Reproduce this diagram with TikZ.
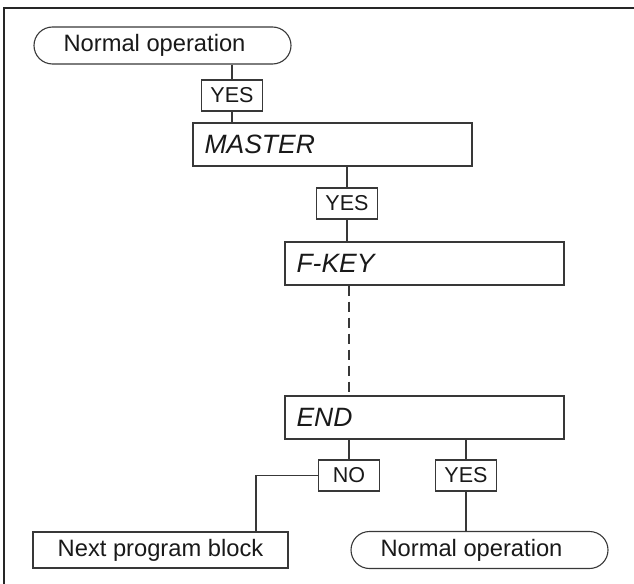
\documentclass[tikz,border=0pt]{standalone}
\usepackage{fontspec}
\setmainfont{Liberation Sans}
\usetikzlibrary{shapes.misc}
\tikzset{terminal/.style={rounded rectangle, draw, fill=white, minimum width=257bp, minimum height=37bp, inner sep=0pt, font=\fontsize{23.8}{28}\selectfont, execute at end node=\hspace{16bp}}}
\tikzset{answer/.style={rectangle, draw, fill=white, minimum width=61bp, minimum height=31bp, inner sep=0pt, font=\fontsize{21.6}{26}\selectfont}}
\tikzset{menubox/.style={rectangle, draw, fill=white, minimum height=43bp, inner xsep=11.5bp, inner ysep=0pt, text width=256bp, align=left, font=\fontsize{26.6}{32}\selectfont\itshape}}
\tikzset{blockbox/.style={rectangle, draw, fill=white, minimum width=255bp, minimum height=36bp, inner sep=0pt, font=\fontsize{23.8}{28}\selectfont}}
\tikzset{flow/.style={draw=black!78, line width=1.1bp}}

\begin{document}
\begin{tikzpicture}[x=1bp,y=-1bp, every node/.style={draw=black!78, line width=1.1bp, text=black!90}]
  \useasboundingbox (0,0) rectangle (634,584);
  \clip (0,0) rectangle (634,584);
  \draw[black!85, line width=1.4bp] (4,600) -- (4,8) -- (650,8);

  \node[terminal] (start) at (162.5,45.5) {Normal operation};
  \node[menubox] (master) at (332.5,144.5) {MASTER};
  \node[menubox] (fkey) at (424.5,263.5) {F-KEY};
  \node[menubox] (end) at (424.5,417.5) {END};
  \node[blockbox] (next) at (160.5,550) {Next program block};
  \node[terminal] (stop) at (479.5,550) {Normal operation};
  \coordinate (bend) at (256,475.5);

  \foreach \x/\y/\lab/\txt in {
    232/95.5/yesa/YES,
    347/203.5/yesb/YES,
    349/475.5/no/NO,
    466/475.5/yesc/YES%
  } {
    \node[answer] (\lab) at (\x, \y) {\txt};
  }

  \draw[flow] (yesa.north |- start.south) -- (yesa.north);
  \draw[flow] (yesa.south) -- (yesa.south |- master.north);
  \draw[flow] (yesb.north |- master.south) -- (yesb.north);
  \draw[flow] (yesb.south) -- (yesb.south |- fkey.north);
  \draw[flow, dash pattern=on 10bp off 6bp] (no.north |- fkey.south) -- (no.north |- end.north);
  \draw[flow] (no.north |- end.south) -- (no.north);
  \draw[flow] (yesc.north |- end.south) -- (yesc.north);
  \draw[flow] (no.west) -- (bend) -- (bend |- next.north);
  \draw[flow] (yesc.south) -- (yesc.south |- stop.north);
\end{tikzpicture}
\end{document}
